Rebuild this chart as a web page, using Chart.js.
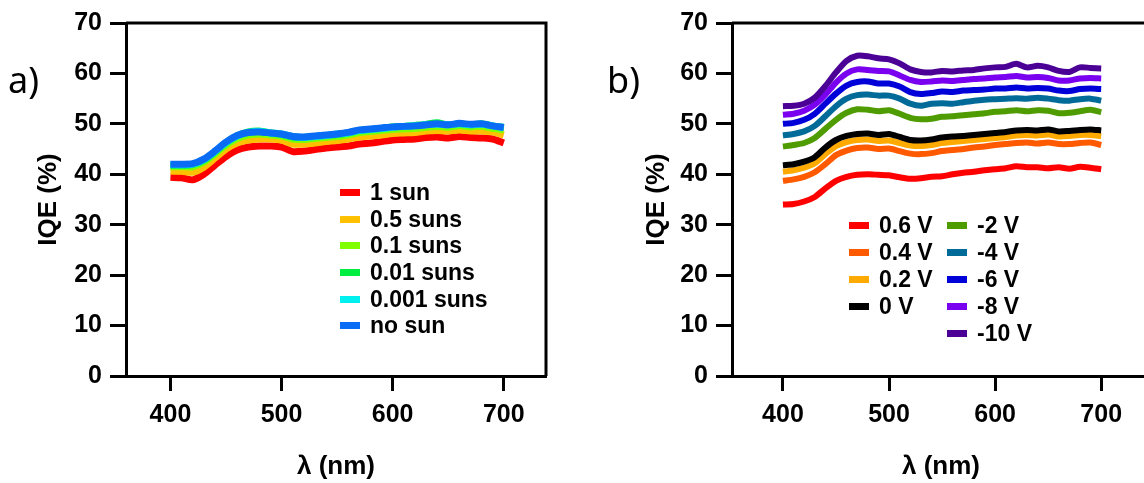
<!DOCTYPE html>
<html>
<head>
<meta charset="utf-8">
<script src="https://cdn.jsdelivr.net/npm/chart.js@4"></script>
<style>
  html, body { margin: 0; padding: 0; background: #fff; }
  body { width: 1144px; height: 483px; overflow: hidden; position: relative; font-family: "Liberation Sans", Arial, sans-serif; }
  canvas { position: absolute; top: 0; }
  #chartA { left: 0; }
  #chartB { left: 600px; }
  .panel { position: absolute; font-family: "Noto Sans", sans-serif; font-size: 36px; line-height: 40px; color: #000; }
  .legend-row { position: absolute; height: 26px; line-height: 26px; font-weight: bold; font-size: 23px; color: #000; white-space: nowrap; }
  .legend-row span.sw { position: absolute; left: 0; top: 10px; width: 20px; height: 7px; }
  .legend-row span.tx { position: absolute; left: 30px; top: 0; }
</style>
</head>
<body>
<canvas id="chartA" width="560" height="483"></canvas>
<canvas id="chartB" width="560" height="483"></canvas>
<div class="panel" style="left:8px; top:60px;">a)</div>
<div class="panel" style="left:607px; top:60px;">b)</div>
<div id="legendA"></div>
<div id="legendB"></div>
<script>
const wavelengths = [400, 410, 420, 430, 440, 450, 460, 470, 480, 490, 500, 510, 520, 530, 540, 550, 560, 570, 580, 590, 600, 610, 620, 630, 640, 650, 660, 670, 680, 690, 700];
const yTicks = [0, 10, 20, 30, 40, 50, 60, 70];
const xTicks = [400, 500, 600, 700];

// panel a) - light intensity
const sunLabels = ["1 sun", "0.5 suns", "0.1 suns", "0.01 suns", "0.001 suns", "no sun"];
const sunColors = ["#ff0000", "#ffc000", "#80ff00", "#00ee40", "#00f0f0", "#0a6cf5"];
const sun1 = [39.4, 39.3, 38.9, 40.0, 41.8, 43.5, 44.8, 45.4, 45.6, 45.6, 45.4, 44.5, 44.6, 44.9, 45.2, 45.4, 45.6, 46.0, 46.2, 46.5, 46.8, 46.9, 47.0, 47.3, 47.4, 47.2, 47.5, 47.3, 47.2, 47.0, 46.2];
const sun05 = [40.6, 40.6, 40.4, 41.4, 43.2, 45.0, 46.2, 46.8, 47.0, 47.0, 46.8, 46.0, 46.0, 46.2, 46.5, 46.7, 47.0, 47.4, 47.6, 47.8, 48.1, 48.2, 48.3, 48.6, 48.7, 48.6, 48.8, 48.6, 48.6, 48.4, 47.8];
const sun01 = [41.5, 41.5, 41.5, 42.4, 44.0, 45.8, 47.1, 47.8, 48.0, 47.8, 47.6, 47.0, 46.9, 47.1, 47.3, 47.5, 47.8, 48.3, 48.5, 48.7, 48.9, 49.0, 49.1, 49.3, 49.5, 49.3, 49.6, 49.4, 49.5, 49.1, 48.8];
const sun001 = [41.8, 41.8, 41.9, 42.8, 44.4, 46.2, 47.6, 48.4, 48.6, 48.2, 47.9, 47.4, 47.3, 47.5, 47.7, 47.9, 48.2, 48.7, 48.9, 49.1, 49.4, 49.5, 49.7, 49.9, 50.2, 49.8, 50.0, 49.8, 50.0, 49.6, 49.3];
const sun0001 = [41.9, 41.9, 42.0, 42.9, 44.5, 46.3, 47.6, 48.3, 48.5, 48.2, 48.0, 47.5, 47.3, 47.5, 47.7, 48.0, 48.2, 48.7, 48.9, 49.1, 49.3, 49.5, 49.6, 49.8, 49.9, 49.8, 50.0, 49.8, 49.9, 49.6, 49.2];
const noSun = [42.0, 42.0, 42.1, 43.0, 44.6, 46.4, 47.7, 48.3, 48.4, 48.2, 48.0, 47.5, 47.4, 47.6, 47.8, 48.0, 48.3, 48.8, 49.0, 49.2, 49.4, 49.5, 49.6, 49.8, 50.0, 49.8, 50.1, 49.9, 50.0, 49.6, 49.3];

// panel b) - bias voltage
const biasLabels = ["0.6 V", "0.4 V", "0.2 V", "0 V", "-2 V", "-4 V", "-6 V", "-8 V", "-10 V"];
const biasColors = ["#ff0000", "#ff5a00", "#ffaa00", "#000000", "#4f9c00", "#006b99", "#0000d8", "#7a00f0", "#4b0096"];
const bias06 = [34.0, 34.1, 34.6, 35.5, 37.2, 38.7, 39.5, 39.9, 40.0, 39.9, 39.8, 39.4, 39.1, 39.2, 39.5, 39.6, 40.0, 40.3, 40.5, 40.8, 41.0, 41.2, 41.6, 41.4, 41.4, 41.2, 41.4, 41.1, 41.5, 41.3, 41.0];
const bias04 = [38.7, 39.0, 39.5, 40.4, 42.0, 43.8, 44.7, 45.2, 45.3, 45.0, 45.1, 44.6, 44.1, 44.0, 44.2, 44.6, 44.8, 45.0, 45.3, 45.5, 45.8, 46.0, 46.2, 46.3, 46.1, 46.3, 46.0, 46.0, 46.2, 46.3, 45.8];
const bias02 = [40.5, 40.8, 41.3, 42.2, 44.0, 45.6, 46.4, 46.8, 46.9, 46.6, 46.7, 46.2, 45.7, 45.6, 45.8, 46.2, 46.4, 46.6, 46.8, 47.0, 47.2, 47.4, 47.7, 47.8, 47.7, 47.9, 47.5, 47.6, 47.8, 47.8, 47.6];
const bias0 = [41.8, 42.0, 42.5, 43.4, 45.3, 46.8, 47.6, 48.0, 48.1, 47.8, 48.0, 47.4, 46.8, 46.7, 46.9, 47.3, 47.5, 47.6, 47.8, 48.0, 48.2, 48.4, 48.7, 48.8, 48.7, 48.9, 48.5, 48.6, 48.8, 48.9, 48.7];
const biasM2 = [45.5, 45.8, 46.2, 47.2, 49.0, 50.8, 52.2, 52.9, 52.8, 52.5, 52.7, 52.0, 51.2, 50.9, 51.0, 51.4, 51.5, 51.7, 51.9, 52.1, 52.4, 52.5, 52.7, 52.5, 52.7, 52.6, 52.1, 52.2, 52.5, 52.8, 52.3];
const biasM4 = [47.7, 48.0, 48.5, 49.6, 51.5, 53.5, 55.0, 55.7, 55.8, 55.6, 55.6, 55.0, 54.0, 53.6, 54.0, 54.1, 54.0, 54.3, 54.6, 54.8, 54.9, 55.0, 55.1, 55.0, 55.2, 55.0, 54.7, 54.6, 54.9, 55.0, 54.6];
const biasM6 = [50.0, 50.2, 50.8, 52.0, 54.0, 56.0, 57.6, 58.3, 58.4, 58.0, 58.0, 57.4, 56.3, 55.9, 56.1, 56.4, 56.3, 56.6, 56.7, 56.8, 57.0, 57.0, 57.2, 57.0, 57.1, 57.0, 56.6, 56.5, 56.9, 57.0, 56.9];
const biasM8 = [51.8, 52.0, 52.6, 53.8, 55.8, 58.2, 60.0, 60.8, 60.7, 60.5, 60.4, 59.6, 58.7, 58.3, 58.4, 58.6, 58.5, 58.7, 58.9, 59.0, 59.2, 59.3, 59.5, 59.2, 59.3, 59.1, 58.6, 58.6, 59.0, 59.1, 59.0];
const biasM10 = [53.5, 53.6, 54.0, 55.2, 57.5, 60.2, 62.5, 63.5, 63.4, 63.0, 62.8, 62.0, 60.8, 60.3, 60.2, 60.5, 60.4, 60.6, 60.7, 61.0, 61.2, 61.3, 61.9, 61.2, 61.5, 61.2, 60.5, 60.3, 61.2, 61.1, 61.0];

const sunSeries = [sun1, sun05, sun01, sun001, sun0001, noSun];
const biasSeries = [bias06, bias04, bias02, bias0, biasM2, biasM4, biasM6, biasM8, biasM10];

const tickFont = { family: "'Liberation Sans', Arial, sans-serif", size: 25, weight: 'bold' };
const titleFont = { family: "'Liberation Sans', Arial, sans-serif", size: 26, weight: 'bold' };

// top and right edges of the plot box
const frame = {
  id: 'frame',
  afterDraw(chart) {
    const { ctx, chartArea: a } = chart;
    ctx.save();
    ctx.strokeStyle = '#000';
    ctx.lineWidth = 3;
    ctx.beginPath();
    ctx.moveTo(a.left, a.top);
    ctx.lineTo(a.right, a.top);
    ctx.lineTo(a.right, a.bottom);
    ctx.stroke();
    ctx.restore();
  }
};

function makeDatasets(series, labels, colors, width) {
  return series.map((vals, i) => ({
    label: labels[i],
    data: wavelengths.map((w, j) => ({ x: w, y: vals[j] })),
    borderColor: colors[i],
    backgroundColor: colors[i],
    borderWidth: width,
    pointRadius: 0,
    tension: 0.25,
    fill: false,
    order: series.length - i
  }));
}

function renderChart(id, datasets, opts) {
  const ctx = document.getElementById(id).getContext('2d');
  return new Chart(ctx, {
    type: 'line',
    data: { datasets },
    options: {
      responsive: false,
      animation: false,
      layout: { padding: { left: 0, top: 23, right: opts.padRight, bottom: 0 } },
      plugins: { legend: { display: false }, tooltip: { enabled: false } },
      scales: {
        x: {
          type: 'linear',
          min: opts.xMin,
          max: opts.xMax,
          afterBuildTicks: s => { s.ticks = xTicks.map(v => ({ value: v })); },
          afterFit: s => { s.height = 107; },
          border: { display: true, color: '#000', width: 3 },
          grid: { drawOnChartArea: false, drawTicks: true, tickLength: 15, tickWidth: 3, tickColor: '#000' },
          ticks: { color: '#000', font: tickFont, padding: 9, maxRotation: 0 },
          title: { display: true, text: 'λ (nm)', color: '#000', font: titleFont, padding: { top: 0, bottom: 1 } }
        },
        y: {
          min: 0,
          max: 70,
          afterBuildTicks: s => { s.ticks = yTicks.map(v => ({ value: v })); },
          afterFit: s => { s.width = opts.yWidth; },
          border: { display: true, color: '#000', width: 3 },
          grid: { drawOnChartArea: false, drawTicks: true, tickLength: 16, tickWidth: 3, tickColor: '#000' },
          ticks: { color: '#000', font: tickFont, padding: 8 },
          title: { display: true, text: 'IQE (%)', color: '#000', font: titleFont, padding: { top: opts.titlePad, bottom: 0 } }
        }
      }
    },
    plugins: [frame]
  });
}

function buildLegend(id, labels, colors, columns) {
  const box = document.getElementById(id);
  columns.forEach(col => {
    col.items.forEach((idx, r) => {
      const row = document.createElement('div');
      row.className = 'legend-row';
      row.style.left = col.x + 'px';
      row.style.top = (col.y + r * col.step - 13) + 'px';
      row.innerHTML = `<span class="sw" style="background:${colors[idx]}"></span><span class="tx">${labels[idx]}</span>`;
      box.appendChild(row);
    });
  });
}

renderChart('chartA', makeDatasets(sunSeries, sunLabels, sunColors, 7),
  { xMin: 360, xMax: 738, padRight: 14, yWidth: 126, titlePad: 33 });
renderChart('chartB', makeDatasets(biasSeries, biasLabels, biasColors, 6),
  { xMin: 352, xMax: 746, padRight: 10, yWidth: 132, titlePad: 41 });

buildLegend('legendA', sunLabels, sunColors, [
  { x: 340, y: 192, step: 26.65, items: [0, 1, 2, 3, 4, 5] }
]);
buildLegend('legendB', biasLabels, biasColors, [
  { x: 849, y: 225, step: 26.9, items: [0, 1, 2, 3] },
  { x: 947, y: 225, step: 26.9, items: [4, 5, 6, 7, 8] }
]);
</script>
</body>
</html>
